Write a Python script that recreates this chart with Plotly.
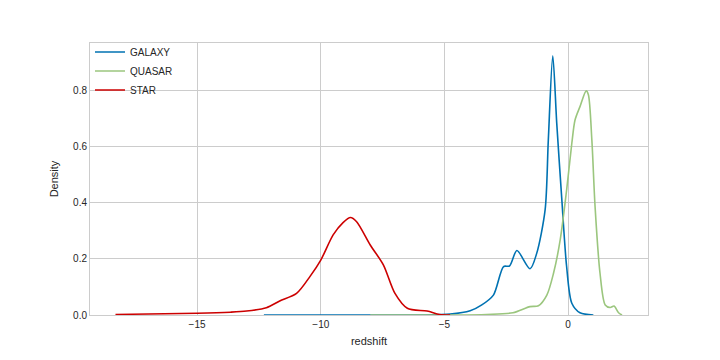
import plotly.graph_objects as go

galaxy_x = [-12.3, -8.0, -6.0, -4.77, -3.96, -3.49, -3.02, -2.61, -2.37, -2.07, -1.54, -1.27, -0.93, -0.8, -0.62, -0.46, -0.26, -0.06, 0.15, 0.48, 1.02]
galaxy_y = [0.0, 0.0, 0.0, 0.003, 0.015, 0.036, 0.071, 0.173, 0.175, 0.23, 0.165, 0.22, 0.375, 0.625, 0.925, 0.685, 0.42, 0.173, 0.042, 0.008, 0.0]

quasar_x = [-8.0, -6.0, -4.5, -3.3, -2.23, -1.54, -1.2, -0.86, -0.59, -0.32, -0.06, 0.15, 0.28, 0.48, 0.73, 0.82, 0.96, 1.09, 1.29, 1.5, 1.7, 1.86, 2.04, 2.18]
quasar_y = [0.0, 0.0, 0.0, 0.002, 0.008, 0.03, 0.033, 0.071, 0.149, 0.268, 0.446, 0.613, 0.696, 0.744, 0.80, 0.786, 0.625, 0.387, 0.149, 0.036, 0.027, 0.032, 0.008, 0.0]

star_x = [-18.3, -15.0, -13.65, -13.0, -12.2, -11.66, -10.98, -10.44, -10.0, -9.5, -9.1, -8.8, -8.55, -8.0, -7.47, -7.0, -6.5, -5.7, -5.2, -4.77]
star_y = [0.002, 0.006, 0.01, 0.014, 0.026, 0.05, 0.077, 0.137, 0.196, 0.286, 0.33, 0.348, 0.333, 0.25, 0.179, 0.077, 0.024, 0.014, 0.002, 0.0]

series = [
    ("GALAXY", galaxy_x, galaxy_y, "#0072B2"),
    ("QUASAR", quasar_x, quasar_y, "#9BC67E"),
    ("STAR", star_x, star_y, "#CC0000"),
]

x_ticks = [-15, -10, -5, 0]
y_ticks = [0.0, 0.2, 0.4, 0.6, 0.8]

fig = go.Figure()
for name, xs, ys, color in series:
    fig.add_trace(go.Scatter(x=xs, y=ys, mode="lines", name=name,
                             line=dict(color=color, width=1.6, shape="spline", smoothing=0.8)))

grid = "#cccccc"
fig.update_layout(
    width=720, height=360,
    margin=dict(l=82, r=80, t=35, b=53),
    paper_bgcolor="white", plot_bgcolor="white",
    font=dict(family="Liberation Sans, Arial, sans-serif", size=10, color="#262626"),
    showlegend=True,
    legend=dict(x=0.0, y=1.02, xanchor="left", yanchor="top",
                bgcolor="rgba(255,255,255,0)", font=dict(size=10, color="#262626"),
                tracegroupgap=0, itemwidth=30),
    xaxis=dict(range=[-19.33, 3.23], tickvals=x_ticks,
               ticktext=["\u221215", "\u221210", "\u22125", "0"],
               showgrid=True, gridcolor=grid, gridwidth=1, zeroline=False,
               showline=True, linecolor=grid, linewidth=1, mirror=True,
               ticks="", title=dict(text="redshift", font=dict(size=11), standoff=8)),
    yaxis=dict(range=[0, 0.971], tickvals=y_ticks, tickformat=".1f",
               showgrid=True, gridcolor=grid, gridwidth=1, zeroline=False,
               showline=True, linecolor=grid, linewidth=1, mirror=True,
               ticks="", title=dict(text="Density", font=dict(size=11), standoff=12)),
)

fig.write_html("out.html")
